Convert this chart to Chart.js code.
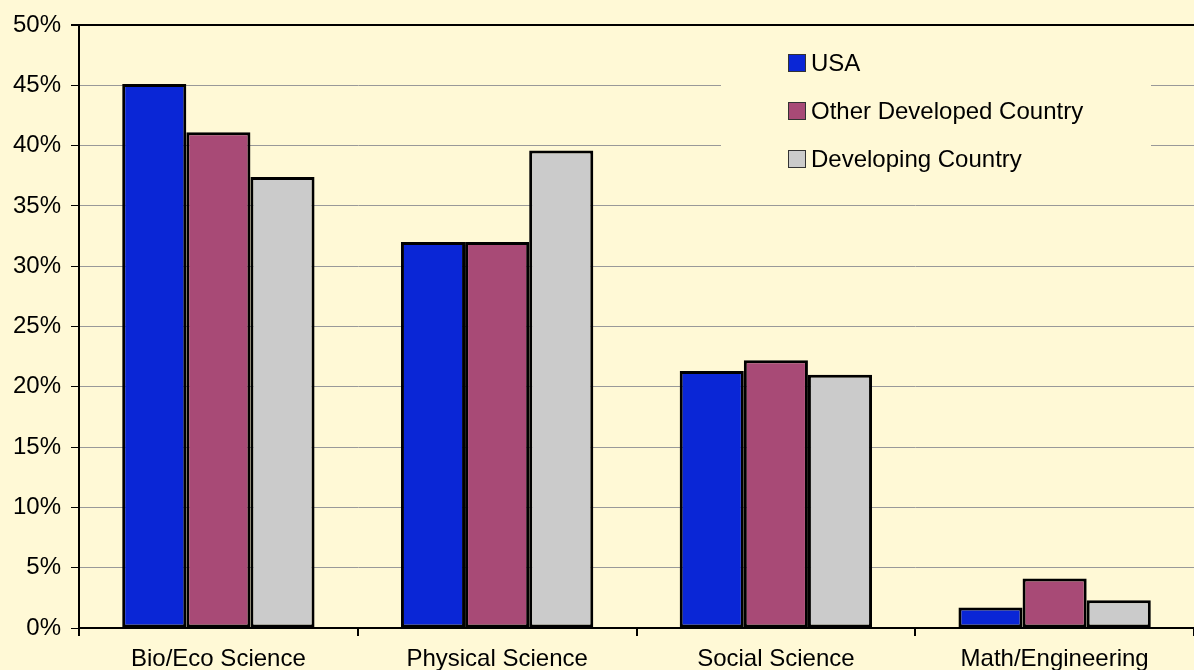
<!DOCTYPE html>
<html>
<head>
<meta charset="utf-8">
<script src="https://cdn.jsdelivr.net/npm/chart.js@4/dist/chart.umd.min.js"></script>
<style>
  html, body { margin: 0; padding: 0; background: #FFF9D6; }
  #wrap { width: 1194px; height: 670px; }
</style>
</head>
<body>
<div id="wrap"><canvas id="myChart" width="1194" height="670"></canvas></div>
<script>
const categories = ['Bio/Eco Science', 'Physical Science', 'Social Science', 'Math/Engineering'];
const seriesNames = ['USA', 'Other Developed Country', 'Developing Country'];
const usaValues = [45.1, 32.0, 21.3, 1.7];
const otherDevValues = [41.1, 32.0, 22.2, 4.1];
const developingValues = [37.4, 39.6, 21.0, 2.3];
const yMax = 50;
const yStep = 5;

const bg = '#FFF9D6';
const colors = ['#0A26D6', '#A84A76', '#CBCBCB'];
const font = "'Liberation Sans', Arial, sans-serif";

// legend drawn inside the plot, over the gridlines
const boxLegend = {
  id: 'boxLegend',
  afterDatasetsDraw(chart) {
    const { ctx, chartArea } = chart;
    const x0 = chartArea.left + 642;
    ctx.save();
    ctx.fillStyle = bg;
    ctx.fillRect(x0, chartArea.top + 12, 430, 150);
    ctx.font = '24px ' + font;
    ctx.textBaseline = 'middle';
    chart.data.datasets.forEach((ds, i) => {
      const cy = chartArea.top + 38 + i * 48;
      ctx.fillStyle = ds.backgroundColor;
      ctx.fillRect(x0 + 67, cy - 9, 18, 18);
      ctx.strokeStyle = '#333';
      ctx.lineWidth = 1;
      ctx.strokeRect(x0 + 67.5, cy - 8.5, 17, 17);
      ctx.fillStyle = '#000';
      ctx.fillText(ds.label, x0 + 90, cy + 1);
    });
    ctx.restore();
  },
};

const ctx = document.getElementById('myChart');

new Chart(ctx, {
  type: 'bar',
  data: {
    labels: categories,
    datasets: [usaValues, otherDevValues, developingValues].map((vals, i) => ({
      label: seriesNames[i],
      data: vals,
      backgroundColor: colors[i],
      borderColor: '#000',
      borderWidth: 3,
      borderSkipped: false,
      categoryPercentage: 0.69,
      barPercentage: 1.0,
    })),
  },
  options: {
    responsive: false,
    animation: false,
    layout: { padding: { top: 25, right: 0, left: 0, bottom: 0 } },
    plugins: {
      legend: { display: false },
      tooltip: { enabled: false },
    },
    scales: {
      x: {
        grid: {
          offset: true,
          drawOnChartArea: false,
          tickLength: 8,
          color: '#000',
          lineWidth: 2,
        },
        border: { color: '#000', width: 2 },
        ticks: {
          color: '#000',
          font: { family: font, size: 24 },
          padding: 9,
          maxRotation: 0,
        },
        afterFit(scale) { scale.height = 42; },
      },
      y: {
        min: 0,
        max: yMax,
        ticks: {
          stepSize: yStep,
          color: '#000',
          font: { family: font, size: 24 },
          padding: 10,
          callback: (v) => v + '%',
        },
        grid: {
          color: (c) => (c.tick && c.tick.value === yMax ? '#000' : '#999'),
          lineWidth: (c) => (c.tick && c.tick.value === yMax ? 2 : 1),
          tickColor: '#000',
          tickLength: 8,
        },
        border: { color: '#000', width: 2 },
        afterFit(scale) { scale.width = 79; },
      },
    },
  },
  plugins: [boxLegend],
});
</script>
</body>
</html>
